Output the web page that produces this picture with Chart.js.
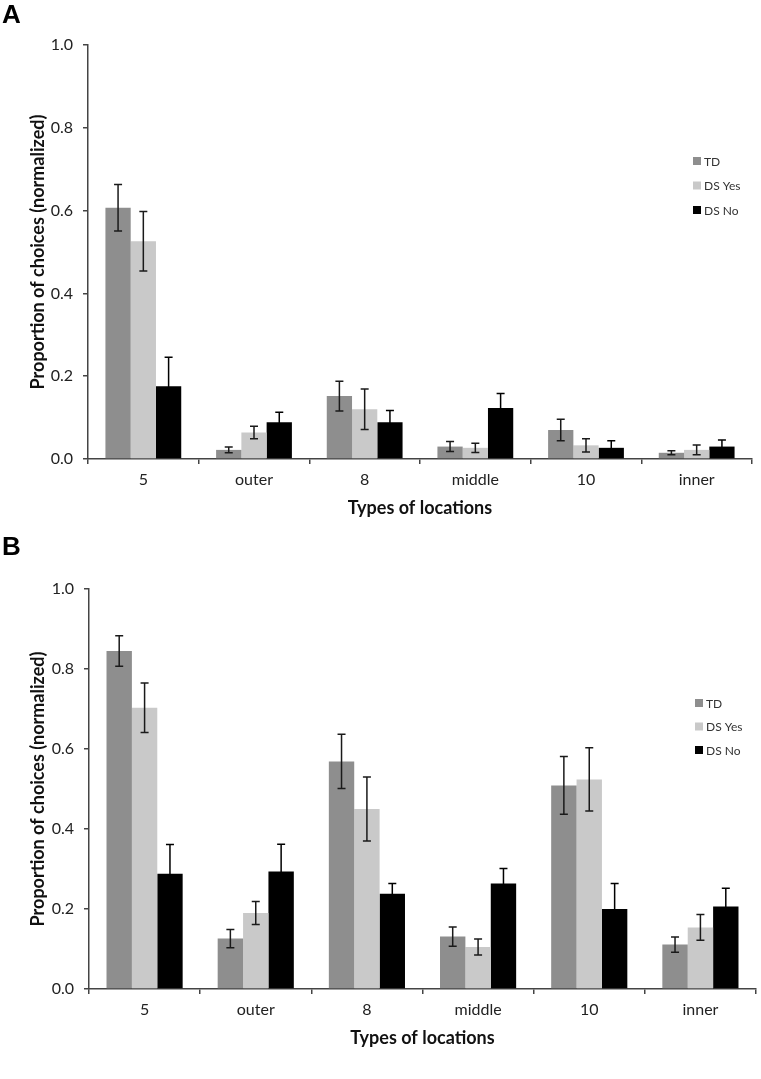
<!DOCTYPE html>
<html>
<head>
<meta charset="utf-8">
<title>Proportion of choices by location type</title>
<script src="https://cdn.jsdelivr.net/npm/chart.js"></script>
<style>
  body { margin: 0; background: #ffffff; }
  .panel { position: absolute; left: 0; }
</style>
</head>
<body>
<canvas id="chartA" class="panel" width="761" height="530" style="top:0"></canvas>
<canvas id="chartB" class="panel" width="761" height="549" style="top:530px"></canvas>
<script>
// Data
const categories = ['5', 'outer', '8', 'middle', '10', 'inner'];
const seriesNames = ['TD', 'DS Yes', 'DS No'];
const yTicks = [0.0, 0.2, 0.4, 0.6, 0.8, 1.0];

// Panel A
const tdA = [0.607, 0.022, 0.152, 0.030, 0.070, 0.015];
const tdErrA = [0.056, 0.007, 0.036, 0.012, 0.026, 0.005];
const dsYesA = [0.526, 0.064, 0.120, 0.027, 0.033, 0.022];
const dsYesErrA = [0.072, 0.015, 0.049, 0.011, 0.016, 0.012];
const dsNoA = [0.176, 0.089, 0.089, 0.123, 0.027, 0.030];
const dsNoErrA = [0.070, 0.024, 0.028, 0.035, 0.017, 0.016];

// Panel B
const tdB = [0.845, 0.126, 0.569, 0.131, 0.509, 0.111];
const tdErrB = [0.038, 0.023, 0.068, 0.024, 0.072, 0.019];
const dsYesB = [0.703, 0.190, 0.450, 0.105, 0.524, 0.154];
const dsYesErrB = [0.062, 0.029, 0.080, 0.020, 0.079, 0.032];
const dsNoB = [0.288, 0.294, 0.238, 0.264, 0.200, 0.206];
const dsNoErrB = [0.073, 0.068, 0.026, 0.037, 0.064, 0.046];

const colors = ['#8e8e8e', '#c9c9c9', '#000000'];
const FONT = 'Lato, "Open Sans", sans-serif';

// error bars drawn on top of each bar
const errorBars = {
    id: 'errorBars',
    afterDatasetsDraw(chart) {
        const ctx = chart.ctx;
        const y = chart.scales.y;
        ctx.save();
        ctx.lineWidth = 1.5;
        chart.data.datasets.forEach(function (ds, i) {
            const meta = chart.getDatasetMeta(i);
            // on the black bars the lower half just disappears, like the original
            ctx.strokeStyle = ds.backgroundColor === '#000000' ? '#000' : '#1a1a1a';
            meta.data.forEach(function (bar, j) {
                const v = ds.data[j];
                const e = ds.errors[j];
                const top = y.getPixelForValue(v + e);
                const bot = y.getPixelForValue(v - e);
                ctx.beginPath();
                ctx.moveTo(bar.x, top);
                ctx.lineTo(bar.x, bot);
                ctx.moveTo(bar.x - 4, top);
                ctx.lineTo(bar.x + 4, top);
                ctx.moveTo(bar.x - 4, bot);
                ctx.lineTo(bar.x + 4, bot);
                ctx.stroke();
            });
        });
        ctx.restore();
    }
};

// small legend inside the plot + panel letter
const sideLegend = {
    id: 'sideLegend',
    afterDraw(chart, args, opts) {
        const ctx = chart.ctx;
        ctx.save();
        ctx.font = '12px ' + FONT;
        ctx.textBaseline = 'middle';
        chart.data.datasets.forEach(function (ds, i) {
            const cy = opts.y + i * opts.gap;
            ctx.fillStyle = ds.backgroundColor;
            ctx.fillRect(opts.x, cy - 4, 8, 8);
            ctx.fillStyle = '#333';
            ctx.fillText(ds.label, opts.x + 11, cy + 1);
        });
        ctx.font = 'bold 26px "Liberation Sans", Arial, sans-serif';
        ctx.fillStyle = '#000';
        ctx.textBaseline = 'alphabetic';
        ctx.fillText(opts.letter, 2, opts.letterY);
        ctx.restore();
    }
};

function makeDatasets(values, errors) {
    return seriesNames.map(function (name, i) {
        return {
            label: name,
            data: values[i],
            errors: errors[i],
            backgroundColor: colors[i],
            borderWidth: 0,
            categoryPercentage: 0.685,
            barPercentage: 1.0
        };
    });
}

function makeChart(id, values, errors, pad, axisW, legend) {
    const ctx = document.getElementById(id).getContext('2d');
    return new Chart(ctx, {
        type: 'bar',
        data: {
            labels: categories,
            datasets: makeDatasets(values, errors)
        },
        options: {
            responsive: false,
            animation: false,
            devicePixelRatio: 1,
            layout: { padding: pad },
            plugins: {
                legend: { display: false },
                tooltip: { enabled: false },
                sideLegend: legend
            },
            scales: {
                x: {
                    afterFit: function (scale) { scale.height = 71; },
                    grid: {
                        display: true,
                        drawOnChartArea: false,
                        drawTicks: true,
                        tickLength: 5,
                        offset: true,
                        color: '#444',
                        lineWidth: 1.5
                    },
                    border: { color: '#444', width: 1.5 },
                    ticks: {
                        padding: 6,
                        color: '#222',
                        font: { family: FONT, size: 16 }
                    },
                    title: {
                        display: true,
                        text: 'Types of locations',
                        color: '#111',
                        font: { family: FONT, size: 18, weight: 'bold' },
                        padding: { top: 0, bottom: 11 }
                    }
                },
                y: {
                    min: 0,
                    max: 1,
                    afterFit: function (scale) { scale.width = axisW; },
                    afterBuildTicks: function (scale) {
                        scale.ticks = yTicks.map(function (v) { return { value: v }; });
                    },
                    grid: {
                        display: true,
                        drawOnChartArea: false,
                        drawTicks: true,
                        tickLength: 5,
                        color: '#444',
                        lineWidth: 1.5
                    },
                    border: { color: '#444', width: 1.5 },
                    ticks: {
                        padding: 10,
                        color: '#222',
                        font: { family: FONT, size: 16 },
                        callback: function (v) { return Number(v).toFixed(1); }
                    },
                    title: {
                        display: true,
                        text: 'Proportion of choices (normalized)',
                        color: '#111',
                        font: { family: FONT, size: 18, weight: 'bold' },
                        padding: { top: 27, bottom: 0 }
                    }
                }
            }
        },
        plugins: [errorBars, sideLegend]
    });
}

makeChart('chartA',
    [tdA, dsYesA, dsNoA],
    [tdErrA, dsYesErrA, dsNoErrA],
    { top: 45, right: 9, bottom: 0, left: 0 }, 88,
    { x: 693, y: 161, gap: 24.5, letter: 'A', letterY: 23 });

makeChart('chartB',
    [tdB, dsYesB, dsNoB],
    [tdErrB, dsYesErrB, dsNoErrB],
    { top: 59, right: 5, bottom: 19, left: 0 }, 89,
    { x: 695, y: 173, gap: 23.5, letter: 'B', letterY: 25 });
</script>
</body>
</html>
